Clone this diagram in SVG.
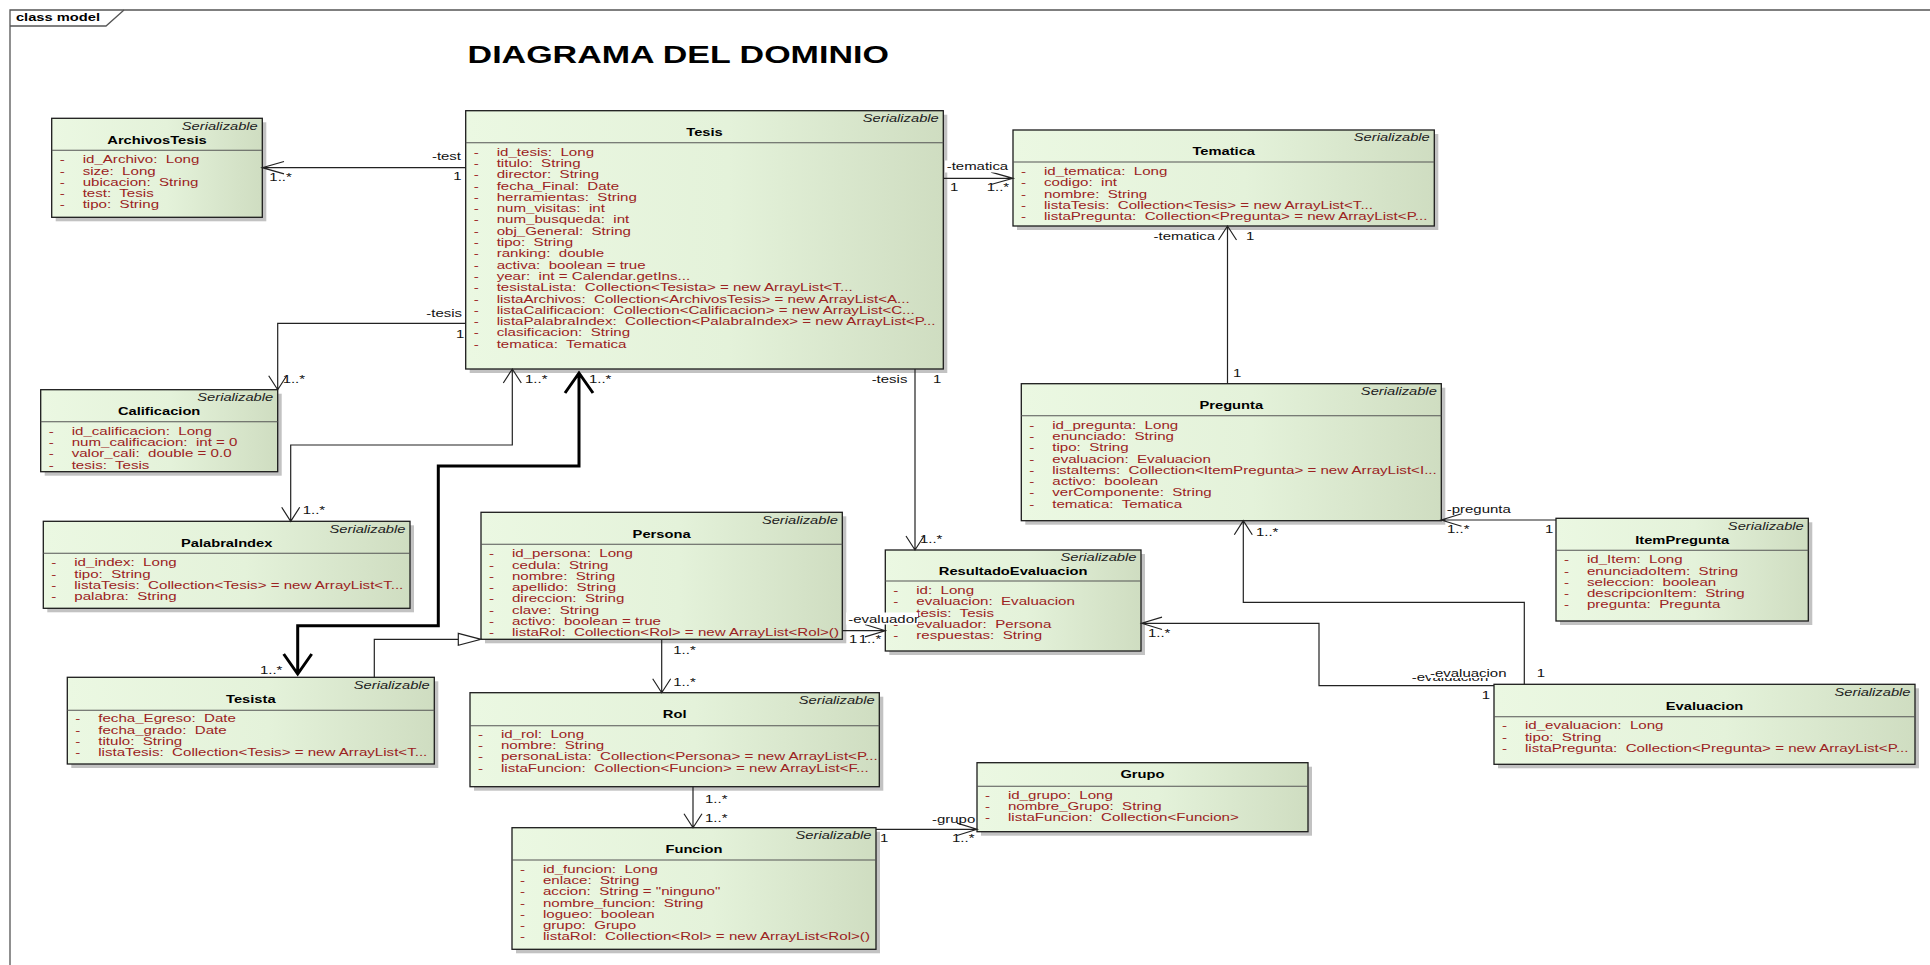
<svg xmlns="http://www.w3.org/2000/svg" width="1930" height="965" viewBox="0 0 1930 965">
<defs>
  <linearGradient id="fillG" x1="0" y1="0" x2="1" y2="0">
    <stop offset="0" stop-color="#ebf8e2"/>
    <stop offset="0.55" stop-color="#e4f2da"/>
    <stop offset="1" stop-color="#cfddc1"/>
  </linearGradient>
</defs>
<style>
  .sh{fill:#c2c2c2}
  .bx{fill:url(#fillG);stroke:#1c1c1c;stroke-width:1.3}
  .sp{stroke:#555;stroke-width:1.1;fill:none}
  text{font-family:"Liberation Sans",Arial,sans-serif;font-size:10.5px}
  .st{font-style:italic;fill:#222;text-anchor:end}
  .nm{font-weight:bold;fill:#000;text-anchor:middle}
  .at{fill:#9b2222;white-space:pre;font-size:10.8px}
  .lb{fill:#111;white-space:pre;font-size:10.7px}
  .ln{fill:none;stroke:#222;stroke-width:1.2}
  .bold{fill:none;stroke:#000;stroke-width:3}
  .title{font-size:24.3px;font-weight:bold;fill:#000}
  .frm{fill:none;stroke:#555;stroke-width:1.3}
</style>
<rect width="1930" height="965" fill="#fff"/>

<!-- diagram frame -->
<g id="frame">
  <path class="frm" d="M10,965 V10 H1930"/>
  <path class="frm" d="M10,26 H106 L124,10"/>
  <text transform="scale(1.4,1)" x="11.4" y="21" font-weight="bold" fill="#000">class model</text>
</g>
<text class="title" transform="scale(1.4,1)" x="334" y="63">DIAGRAMA DEL DOMINIO</text>

<!-- classes -->
<g id="n-archivostesis" transform="translate(51.7,118.3)">
  <rect class="sh" x="4" y="4" width="210.6" height="99"/>
  <rect class="bx" width="210.6" height="99"/>
  <path class="sp" d="M0,32H210.6"/>
  <g transform="scale(1.4,1)">
    <text class="st" x="147.2" y="11.5">Serializable</text>
    <text class="nm" x="75.2" y="25.5">ArchivosTesis</text>
    <text class="at"><tspan x="5.7" y="45">-</tspan><tspan x="22.1">id_Archivo:  Long</tspan><tspan x="5.7" y="56.3">-</tspan><tspan x="22.1">size:  Long</tspan><tspan x="5.7" y="67.6">-</tspan><tspan x="22.1">ubicacion:  String</tspan><tspan x="5.7" y="78.9">-</tspan><tspan x="22.1">test:  Tesis</tspan><tspan x="5.7" y="90.2">-</tspan><tspan x="22.1">tipo:  String</tspan></text>
  </g>
</g>

<g id="n-tesis" transform="translate(465.7,110.7)">
  <rect class="sh" x="4" y="4" width="477.6" height="258.3"/>
  <rect class="bx" width="477.6" height="258.3"/>
  <path class="sp" d="M0,32H477.6"/>
  <g transform="scale(1.4,1)">
    <text class="st" x="337.9" y="11.5">Serializable</text>
    <text class="nm" x="170.6" y="25.5">Tesis</text>
    <text class="at"><tspan x="5.7" y="45">-</tspan><tspan x="22.1">id_tesis:  Long</tspan><tspan x="5.7" y="56.3">-</tspan><tspan x="22.1">titulo:  String</tspan><tspan x="5.7" y="67.6">-</tspan><tspan x="22.1">director:  String</tspan><tspan x="5.7" y="78.9">-</tspan><tspan x="22.1">fecha_Final:  Date</tspan><tspan x="5.7" y="90.2">-</tspan><tspan x="22.1">herramientas:  String</tspan><tspan x="5.7" y="101.5">-</tspan><tspan x="22.1">num_visitas:  int</tspan><tspan x="5.7" y="112.8">-</tspan><tspan x="22.1">num_busqueda:  int</tspan><tspan x="5.7" y="124.1">-</tspan><tspan x="22.1">obj_General:  String</tspan><tspan x="5.7" y="135.4">-</tspan><tspan x="22.1">tipo:  String</tspan><tspan x="5.7" y="146.7">-</tspan><tspan x="22.1">ranking:  double</tspan><tspan x="5.7" y="158">-</tspan><tspan x="22.1">activa:  boolean = true</tspan><tspan x="5.7" y="169.3">-</tspan><tspan x="22.1">year:  int = Calendar.getIns...</tspan><tspan x="5.7" y="180.6">-</tspan><tspan x="22.1">tesistaLista:  Collection&lt;Tesista&gt; = new ArrayList&lt;T...</tspan><tspan x="5.7" y="191.9">-</tspan><tspan x="22.1">listaArchivos:  Collection&lt;ArchivosTesis&gt; = new ArrayList&lt;A...</tspan><tspan x="5.7" y="203.2">-</tspan><tspan x="22.1">listaCalificacion:  Collection&lt;Calificacion&gt; = new ArrayList&lt;C...</tspan><tspan x="5.7" y="214.5">-</tspan><tspan x="22.1">listaPalabraIndex:  Collection&lt;PalabraIndex&gt; = new ArrayList&lt;P...</tspan><tspan x="5.7" y="225.8">-</tspan><tspan x="22.1">clasificacion:  String</tspan><tspan x="5.7" y="237.1">-</tspan><tspan x="22.1">tematica:  Tematica</tspan></text>
  </g>
</g>

<g id="n-tematica" transform="translate(1013,130)">
  <rect class="sh" x="4" y="4" width="421.3" height="96"/>
  <rect class="bx" width="421.3" height="96"/>
  <path class="sp" d="M0,32H421.3"/>
  <g transform="scale(1.4,1)">
    <text class="st" x="297.7" y="11.5">Serializable</text>
    <text class="nm" x="150.5" y="25.5">Tematica</text>
    <text class="at"><tspan x="5.7" y="45">-</tspan><tspan x="22.1">id_tematica:  Long</tspan><tspan x="5.7" y="56.3">-</tspan><tspan x="22.1">codigo:  int</tspan><tspan x="5.7" y="67.6">-</tspan><tspan x="22.1">nombre:  String</tspan><tspan x="5.7" y="78.9">-</tspan><tspan x="22.1">listaTesis:  Collection&lt;Tesis&gt; = new ArrayList&lt;T...</tspan><tspan x="5.7" y="90.2">-</tspan><tspan x="22.1">listaPregunta:  Collection&lt;Pregunta&gt; = new ArrayList&lt;P...</tspan></text>
  </g>
</g>

<g id="n-calificacion" transform="translate(40.7,389.7)">
  <rect class="sh" x="4" y="4" width="237" height="82"/>
  <rect class="bx" width="237" height="82"/>
  <path class="sp" d="M0,32H237"/>
  <g transform="scale(1.4,1)">
    <text class="st" x="166.1" y="11.5">Serializable</text>
    <text class="nm" x="84.6" y="25.5">Calificacion</text>
    <text class="at"><tspan x="5.7" y="45">-</tspan><tspan x="22.1">id_calificacion:  Long</tspan><tspan x="5.7" y="56.3">-</tspan><tspan x="22.1">num_calificacion:  int = 0</tspan><tspan x="5.7" y="67.6">-</tspan><tspan x="22.1">valor_cali:  double = 0.0</tspan><tspan x="5.7" y="78.9">-</tspan><tspan x="22.1">tesis:  Tesis</tspan></text>
  </g>
</g>

<g id="n-palabraindex" transform="translate(43.3,521.3)">
  <rect class="sh" x="4" y="4" width="366.7" height="87"/>
  <rect class="bx" width="366.7" height="87"/>
  <path class="sp" d="M0,32H366.7"/>
  <g transform="scale(1.4,1)">
    <text class="st" x="258.7" y="11.5">Serializable</text>
    <text class="nm" x="131" y="25.5">PalabraIndex</text>
    <text class="at"><tspan x="5.7" y="45">-</tspan><tspan x="22.1">id_index:  Long</tspan><tspan x="5.7" y="56.3">-</tspan><tspan x="22.1">tipo:  String</tspan><tspan x="5.7" y="67.6">-</tspan><tspan x="22.1">listaTesis:  Collection&lt;Tesis&gt; = new ArrayList&lt;T...</tspan><tspan x="5.7" y="78.9">-</tspan><tspan x="22.1">palabra:  String</tspan></text>
  </g>
</g>

<g id="n-pregunta" transform="translate(1021.3,383.7)">
  <rect class="sh" x="4" y="4" width="420" height="137"/>
  <rect class="bx" width="420" height="137"/>
  <path class="sp" d="M0,32H420"/>
  <g transform="scale(1.4,1)">
    <text class="st" x="296.8" y="11.5">Serializable</text>
    <text class="nm" x="150" y="25.5">Pregunta</text>
    <text class="at"><tspan x="5.7" y="45">-</tspan><tspan x="22.1">id_pregunta:  Long</tspan><tspan x="5.7" y="56.3">-</tspan><tspan x="22.1">enunciado:  String</tspan><tspan x="5.7" y="67.6">-</tspan><tspan x="22.1">tipo:  String</tspan><tspan x="5.7" y="78.9">-</tspan><tspan x="22.1">evaluacion:  Evaluacion</tspan><tspan x="5.7" y="90.2">-</tspan><tspan x="22.1">listaItems:  Collection&lt;ItemPregunta&gt; = new ArrayList&lt;I...</tspan><tspan x="5.7" y="101.5">-</tspan><tspan x="22.1">activo:  boolean</tspan><tspan x="5.7" y="112.8">-</tspan><tspan x="22.1">verComponente:  String</tspan><tspan x="5.7" y="124.1">-</tspan><tspan x="22.1">tematica:  Tematica</tspan></text>
  </g>
</g>

<g id="n-itempregunta" transform="translate(1556,518.3)">
  <rect class="sh" x="4" y="4" width="252.3" height="102.7"/>
  <rect class="bx" width="252.3" height="102.7"/>
  <path class="sp" d="M0,32H252.3"/>
  <g transform="scale(1.4,1)">
    <text class="st" x="177" y="11.5">Serializable</text>
    <text class="nm" x="90.1" y="25.5">ItemPregunta</text>
    <text class="at"><tspan x="5.7" y="45">-</tspan><tspan x="22.1">id_Item:  Long</tspan><tspan x="5.7" y="56.3">-</tspan><tspan x="22.1">enunciadoItem:  String</tspan><tspan x="5.7" y="67.6">-</tspan><tspan x="22.1">seleccion:  boolean</tspan><tspan x="5.7" y="78.9">-</tspan><tspan x="22.1">descripcionItem:  String</tspan><tspan x="5.7" y="90.2">-</tspan><tspan x="22.1">pregunta:  Pregunta</tspan></text>
  </g>
</g>

<g id="n-persona" transform="translate(481,512.3)">
  <rect class="sh" x="4" y="4" width="361.3" height="127"/>
  <rect class="bx" width="361.3" height="127"/>
  <path class="sp" d="M0,32H361.3"/>
  <g transform="scale(1.4,1)">
    <text class="st" x="254.9" y="11.5">Serializable</text>
    <text class="nm" x="129" y="25.5">Persona</text>
    <text class="at"><tspan x="5.7" y="45">-</tspan><tspan x="22.1">id_persona:  Long</tspan><tspan x="5.7" y="56.3">-</tspan><tspan x="22.1">cedula:  String</tspan><tspan x="5.7" y="67.6">-</tspan><tspan x="22.1">nombre:  String</tspan><tspan x="5.7" y="78.9">-</tspan><tspan x="22.1">apellido:  String</tspan><tspan x="5.7" y="90.2">-</tspan><tspan x="22.1">direccion:  String</tspan><tspan x="5.7" y="101.5">-</tspan><tspan x="22.1">clave:  String</tspan><tspan x="5.7" y="112.8">-</tspan><tspan x="22.1">activo:  boolean = true</tspan><tspan x="5.7" y="124.1">-</tspan><tspan x="22.1">listaRol:  Collection&lt;Rol&gt; = new ArrayList&lt;Rol&gt;()</tspan></text>
  </g>
</g>

<g id="n-resultadoevaluacion" transform="translate(885.3,550)">
  <rect class="sh" x="4" y="4" width="255.7" height="101"/>
  <rect class="bx" width="255.7" height="101"/>
  <path class="sp" d="M0,31H255.7"/>
  <g transform="scale(1.4,1)">
    <text class="st" x="179.4" y="11.5">Serializable</text>
    <text class="nm" x="91.3" y="25.5">ResultadoEvaluacion</text>
    <text class="at"><tspan x="5.7" y="44">-</tspan><tspan x="22.1">id:  Long</tspan><tspan x="5.7" y="55.3">-</tspan><tspan x="22.1">evaluacion:  Evaluacion</tspan><tspan x="5.7" y="66.6">-</tspan><tspan x="22.1">tesis:  Tesis</tspan><tspan x="5.7" y="77.9">-</tspan><tspan x="22.1">evaluador:  Persona</tspan><tspan x="5.7" y="89.2">-</tspan><tspan x="22.1">respuestas:  String</tspan></text>
  </g>
</g>

<g id="n-tesista" transform="translate(67.3,677.3)">
  <rect class="sh" x="4" y="4" width="367" height="86.7"/>
  <rect class="bx" width="367" height="86.7"/>
  <path class="sp" d="M0,33H367"/>
  <g transform="scale(1.4,1)">
    <text class="st" x="258.9" y="11.5">Serializable</text>
    <text class="nm" x="131.1" y="25.5">Tesista</text>
    <text class="at"><tspan x="5.7" y="45">-</tspan><tspan x="22.1">fecha_Egreso:  Date</tspan><tspan x="5.7" y="56.3">-</tspan><tspan x="22.1">fecha_grado:  Date</tspan><tspan x="5.7" y="67.6">-</tspan><tspan x="22.1">titulo:  String</tspan><tspan x="5.7" y="78.9">-</tspan><tspan x="22.1">listaTesis:  Collection&lt;Tesis&gt; = new ArrayList&lt;T...</tspan></text>
  </g>
</g>

<g id="n-rol" transform="translate(470,692.7)">
  <rect class="sh" x="4" y="4" width="409.3" height="94"/>
  <rect class="bx" width="409.3" height="94"/>
  <path class="sp" d="M0,33H409.3"/>
  <g transform="scale(1.4,1)">
    <text class="st" x="289.1" y="11.5">Serializable</text>
    <text class="nm" x="146.2" y="25.5">Rol</text>
    <text class="at"><tspan x="5.7" y="45">-</tspan><tspan x="22.1">id_rol:  Long</tspan><tspan x="5.7" y="56.3">-</tspan><tspan x="22.1">nombre:  String</tspan><tspan x="5.7" y="67.6">-</tspan><tspan x="22.1">personaLista:  Collection&lt;Persona&gt; = new ArrayList&lt;P...</tspan><tspan x="5.7" y="78.9">-</tspan><tspan x="22.1">listaFuncion:  Collection&lt;Funcion&gt; = new ArrayList&lt;F...</tspan></text>
  </g>
</g>

<g id="n-evaluacion" transform="translate(1494,684.3)">
  <rect class="sh" x="4" y="4" width="421" height="80"/>
  <rect class="bx" width="421" height="80"/>
  <path class="sp" d="M0,32.4H421"/>
  <g transform="scale(1.4,1)">
    <text class="st" x="297.5" y="11.5">Serializable</text>
    <text class="nm" x="150.4" y="25.5">Evaluacion</text>
    <text class="at"><tspan x="5.7" y="45">-</tspan><tspan x="22.1">id_evaluacion:  Long</tspan><tspan x="5.7" y="56.3">-</tspan><tspan x="22.1">tipo:  String</tspan><tspan x="5.7" y="67.6">-</tspan><tspan x="22.1">listaPregunta:  Collection&lt;Pregunta&gt; = new ArrayList&lt;P...</tspan></text>
  </g>
</g>

<g id="n-grupo" transform="translate(977,762.7)">
  <rect class="sh" x="4" y="4" width="331" height="69"/>
  <rect class="bx" width="331" height="69"/>
  <path class="sp" d="M0,23.6H331"/>
  <g transform="scale(1.4,1)">
    <text class="nm" x="118.2" y="15.5">Grupo</text>
    <text class="at"><tspan x="5.7" y="36">-</tspan><tspan x="22.1">id_grupo:  Long</tspan><tspan x="5.7" y="47.3">-</tspan><tspan x="22.1">nombre_Grupo:  String</tspan><tspan x="5.7" y="58.6">-</tspan><tspan x="22.1">listaFuncion:  Collection&lt;Funcion&gt;</tspan></text>
  </g>
</g>

<g id="n-funcion" transform="translate(512,827.7)">
  <rect class="sh" x="4" y="4" width="364" height="121.6"/>
  <rect class="bx" width="364" height="121.6"/>
  <path class="sp" d="M0,32.3H364"/>
  <g transform="scale(1.4,1)">
    <text class="st" x="256.8" y="11.5">Serializable</text>
    <text class="nm" x="130" y="25.5">Funcion</text>
    <text class="at"><tspan x="5.7" y="45">-</tspan><tspan x="22.1">id_funcion:  Long</tspan><tspan x="5.7" y="56.3">-</tspan><tspan x="22.1">enlace:  String</tspan><tspan x="5.7" y="67.6">-</tspan><tspan x="22.1">accion:  String = "ninguno"</tspan><tspan x="5.7" y="78.9">-</tspan><tspan x="22.1">nombre_funcion:  String</tspan><tspan x="5.7" y="90.2">-</tspan><tspan x="22.1">logueo:  boolean</tspan><tspan x="5.7" y="101.5">-</tspan><tspan x="22.1">grupo:  Grupo</tspan><tspan x="5.7" y="112.8">-</tspan><tspan x="22.1">listaRol:  Collection&lt;Rol&gt; = new ArrayList&lt;Rol&gt;()</tspan></text>
  </g>
</g>

<!-- associations and generalization -->
<g id="connectors">
  <!-- Tesis -> ArchivosTesis -->
  <path class="ln" d="M465.7,167.7 H262.3 M284,161.5 L262.3,167.7 L284,173.9"/>
  <!-- Tesis -> Tematica -->
  <path class="ln" d="M943.3,178.3 H1013 M991,172.1 L1013,178.3 L991,184.5"/>
  <!-- Pregunta -> Tematica -->
  <path class="ln" d="M1227.5,383.7 V226 M1218.5,240 L1227.5,226 L1236.5,240"/>
  <!-- ItemPregunta -> Pregunta -->
  <path class="ln" d="M1556,520 H1441.3 M1461.5,513.8 L1441.3,520 L1461.5,526.2"/>
  <!-- Evaluacion -> Pregunta -->
  <path class="ln" d="M1524.3,684.3 V602.3 H1243.3 V520.7 M1234.3,534.7 L1243.3,520.7 L1252.3,534.7"/>
  <!-- Evaluacion -> ResultadoEvaluacion -->
  <path class="ln" d="M1494,685.7 H1319 V623.3 H1141.7 M1162,617.1 L1141.7,623.3 L1162,629.5"/>
  <!-- Tesis -> ResultadoEvaluacion -->
  <path class="ln" d="M915,369 V550 M906,536 L915,550 L924,536"/>
  <!-- Persona -> ResultadoEvaluacion -->
  <path class="ln" d="M842.3,630.7 H885.3 M865,624.5 L885.3,630.7 L865,636.9"/>
  <!-- Persona -> Rol -->
  <path class="ln" d="M661.7,639.3 V692.7 M652.7,678.7 L661.7,692.7 L670.7,678.7"/>
  <!-- Rol -> Funcion -->
  <path class="ln" d="M693,786.7 V827.7 M684,813.7 L693,827.7 L702,813.7"/>
  <!-- Funcion -> Grupo -->
  <path class="ln" d="M876,829.3 H977 M957,823.1 L977,829.3 L957,835.5"/>
  <!-- Tesis -> Calificacion -->
  <path class="ln" d="M465.7,323.3 H277.7 V389.7 M268.7,375.7 L277.7,389.7 L286.7,375.7"/>
  <!-- Tesis <-> PalabraIndex -->
  <path class="ln" d="M512.3,369 V445 H290.7 V521.3 M503.3,383 L512.3,369 L521.3,383 M281.7,507.3 L290.7,521.3 L299.7,507.3"/>
  <!-- Tesis <-> Tesista -->
  <path class="bold" d="M579,373 V466 H438.3 V625.7 H297.7 V674 M565,393 L579,373 L593,393 M283.7,654 L297.7,674 L311.7,654"/>
  <!-- Tesista generalizes Persona -->
  <path class="ln" d="M374.3,677.3 V639.3 H458.3"/>
  <path d="M458.3,633.3 L481,639.3 L458.3,645.3 Z" fill="#fff" stroke="#222" stroke-width="1.2"/>

  <!-- label backgrounds -->
  <rect x="945" y="160.5" width="62" height="12" fill="#fff"/>
  <rect x="846" y="612.5" width="72" height="12" fill="#fff"/>

  <g transform="scale(1.4,1)">
    <text class="lb" x="329.3" y="160" text-anchor="end">-test</text>
    <text class="lb" x="323.8" y="180.5">1</text>
    <text class="lb" x="192.4" y="181">1..*</text>

    <text class="lb" x="676.2" y="170.5">-tematica</text>
    <text class="lb" x="678.6" y="191.5">1</text>
    <text class="lb" x="704.8" y="191.5">1..*</text>

    <text class="lb" x="867.9" y="240.5" text-anchor="end">-tematica</text>
    <text class="lb" x="890" y="240.5">1</text>
    <text class="lb" x="880.7" y="377.5">1</text>

    <text class="lb" x="1033.4" y="513.5">-pregunta</text>
    <text class="lb" x="1033.6" y="533">1..*</text>
    <text class="lb" x="1103.6" y="533">1</text>

    <text class="lb" x="897.1" y="536">1..*</text>
    <text class="lb" x="1097.6" y="677.5">1</text>

    <text class="lb" x="820" y="637">1..*</text>
    <text class="lb" x="1008.4" y="681">-evaluacion</text>
    <rect x="1020" y="666" width="60" height="12" fill="#fff"/>
    <text class="lb" x="1021.4" y="677">-evaluacion</text>
    <text class="lb" x="1058.4" y="699.5">1</text>

    <text class="lb" x="622.6" y="383.5">-tesis</text>
    <text class="lb" x="666.4" y="383.5">1</text>
    <text class="lb" x="657.1" y="543.5">1..*</text>

    <text class="lb" x="605.9" y="623.5">-evaluador</text>
    <text class="lb" x="606.4" y="643.5">1</text>
    <text class="lb" x="613.4" y="643.5">1..*</text>

    <text class="lb" x="480.9" y="654.2">1..*</text>
    <text class="lb" x="480.9" y="686.2">1..*</text>

    <text class="lb" x="503.6" y="803">1..*</text>
    <text class="lb" x="503.6" y="822">1..*</text>

    <text class="lb" x="665.7" y="823.5">-grupo</text>
    <text class="lb" x="628.6" y="842">1</text>
    <text class="lb" x="680" y="842">1..*</text>

    <text class="lb" x="330" y="317" text-anchor="end">-tesis</text>
    <text class="lb" x="325.7" y="338">1</text>
    <text class="lb" x="201.9" y="383.5">1..*</text>

    <text class="lb" x="375" y="383.5">1..*</text>
    <text class="lb" x="216.2" y="514.2">1..*</text>

    <text class="lb" x="420.7" y="383.5">1..*</text>
    <text class="lb" x="185.7" y="674.2">1..*</text>
  </g>
</g>
</svg>
